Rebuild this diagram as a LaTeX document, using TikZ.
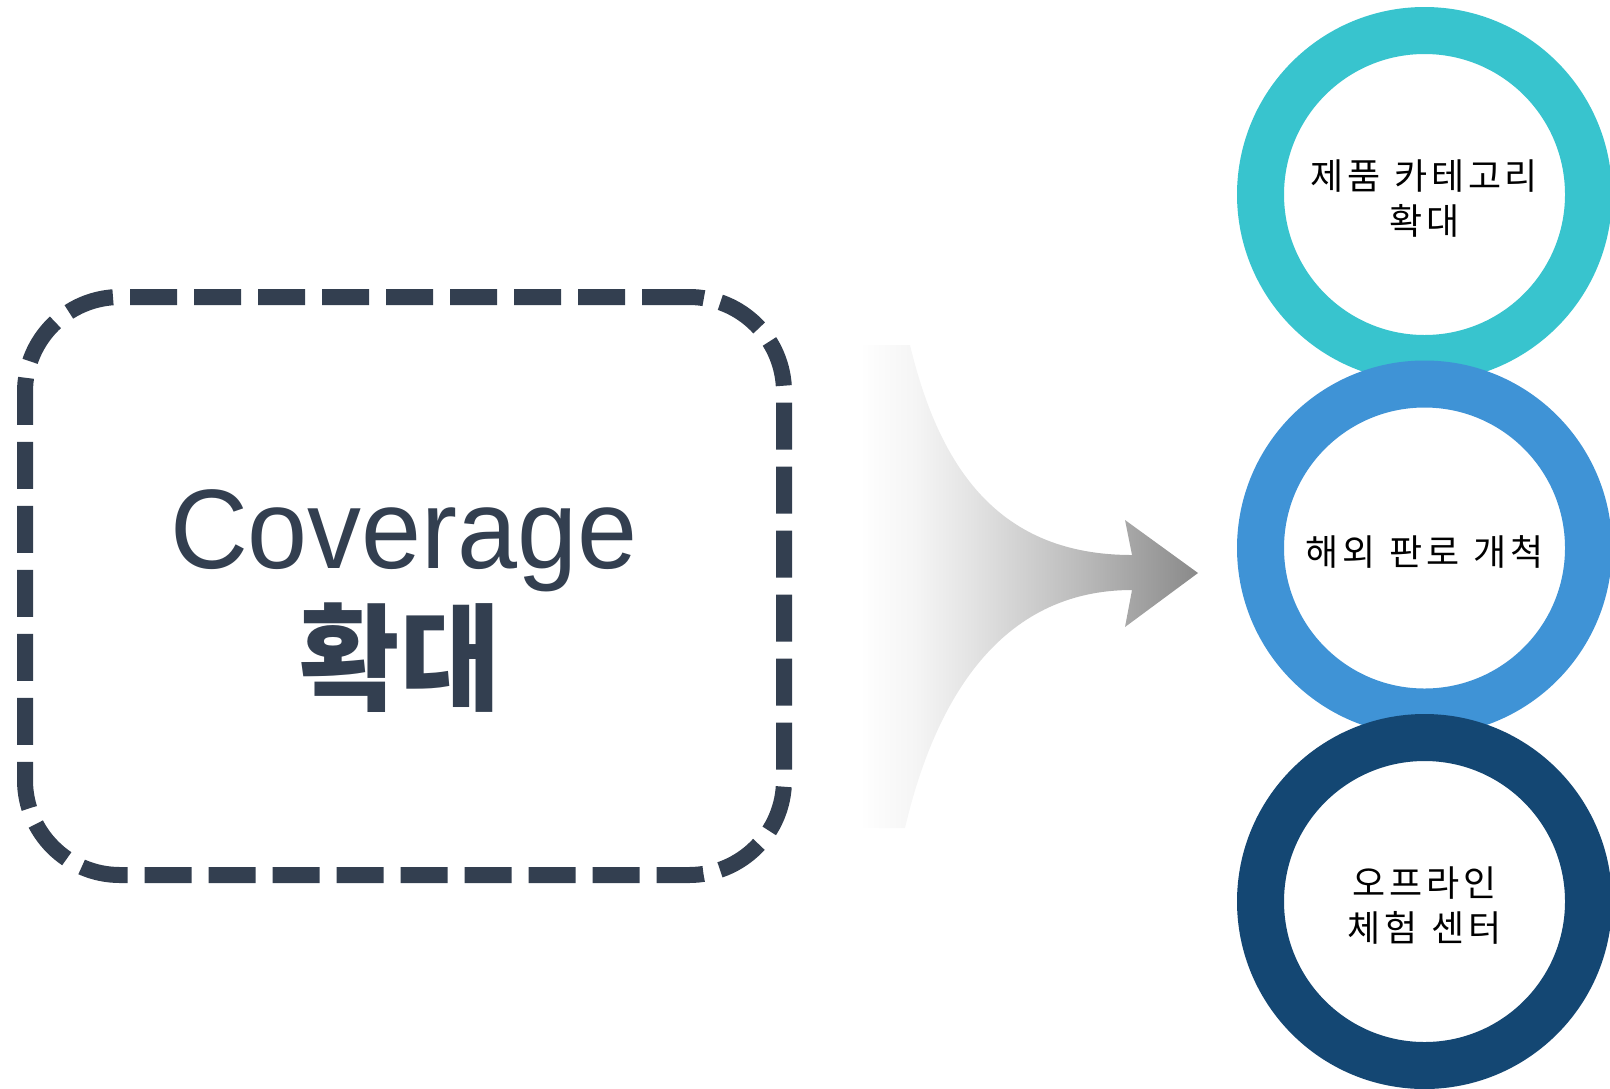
\documentclass[tikz,border=0pt]{standalone}
\usepackage{fontspec}
\usepackage{tikz}
\setmainfont{Liberation Sans}
\newfontfamily\krfont[WordSpace=1.2, LetterSpace=10]{Noto Sans CJK KR}
\newfontfamily\krbigfont[FakeStretch=0.94]{Noto Sans CJK KR}
\newfontfamily\covfont[FakeStretch=0.955]{Liberation Sans}
\definecolor{slate}{RGB}{51,63,80}
\definecolor{ringteal}{RGB}{56,196,206}
\definecolor{ringblue}{RGB}{63,147,214}
\definecolor{ringnavy}{RGB}{20,71,115}
\pgfdeclarehorizontalshading{arrowfade}{100bp}{color(0bp)=(white); color(33bp)=(white);
  color(40bp)=(black!4); color(47bp)=(black!11); color(59bp)=(black!25);
  color(75bp)=(black!46); color(100bp)=(black!46)}

\begin{document}
\begin{tikzpicture}[x=0.5pt, y=-0.5pt,
    dashbox/.style = {draw=slate, line width=8pt, dash pattern=on 23.5pt off 8.5pt,
      rounded corners=47.5pt, minimum width=379.5pt, minimum height=289pt, inner sep=0pt},
    ring/.style = {circle, draw=#1, line width=23.5pt, fill=white, minimum size=164pt, inner sep=0pt},
    ringtext/.style = {align=center, text=black, inner sep=0pt, font=\krfont\fontsize{18}{22.5}\selectfont}]
      \useasboundingbox (0,0) rectangle (1610,1088);
      \clip (0,0) rectangle (1610,1088);
      \node [dashbox] (box) at (404.5,586) {};
      \node [font=\covfont\fontsize{56.5}{60}\selectfont, text=slate, anchor=base, inner sep=0pt] (cov) at (404,568.5) {Coverage};
      \node [font=\krbigfont\bfseries\fontsize{58}{60}\selectfont, text=slate, inner sep=0pt] (grow) at (400,658) {확대};
      \shade [shading=arrowfade]
        (863,345) -- (910,345) .. controls (940,470) and (1000,555) .. (1132,555)
        -- (1125,520) -- (1198,573) -- (1125,627) -- (1132,590)
        .. controls (1000,590) and (935,700) .. (905,828)
        -- (860,828) .. controls (795,700) and (795,470) .. (863,345) -- cycle;
      \node [ring=ringteal] (cat) at (1424.5,194.5) {};
      \node [ring=ringblue] (abroad) at (1424.5,548) {};
      \node [ring=ringnavy] (offline) at (1424.5,901.5) {};
      \node [ringtext] (catlabel) at ([yshift=-2pt]cat.center) {제품 카테고리\\확대};
      \node [ringtext] (abroadlabel) at ([yshift=-2pt]abroad.center) {해외 판로 개척};
      \node [ringtext] (offlinelabel) at ([yshift=-2pt]offline.center) {오프라인\\체험 센터};
    \end{tikzpicture}
\end{document}
